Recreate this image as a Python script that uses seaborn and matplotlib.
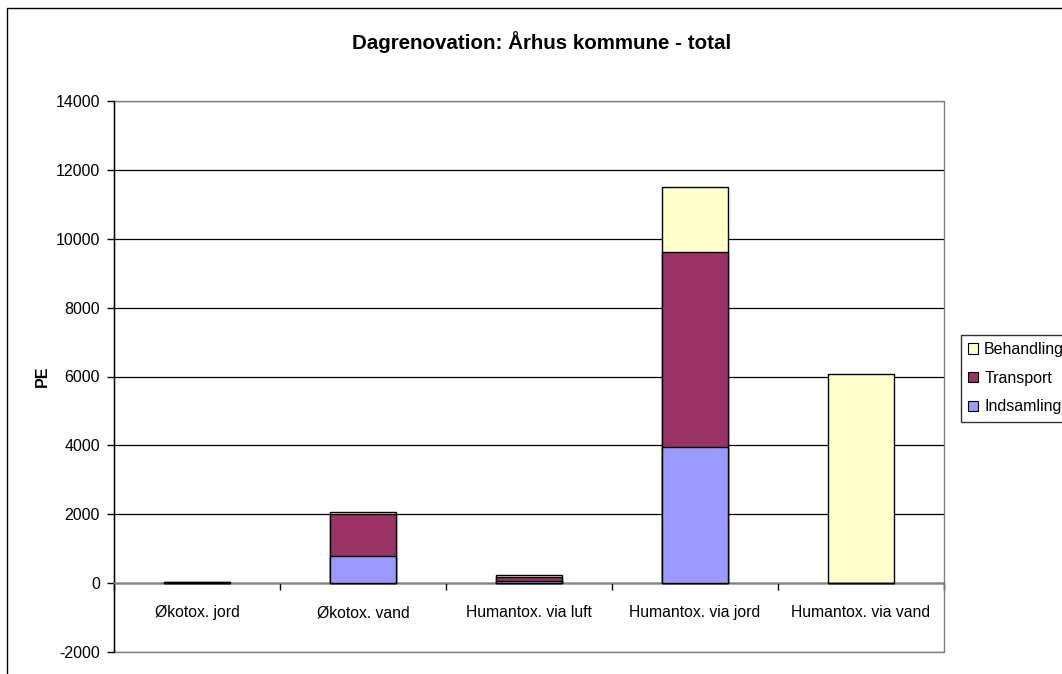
import pandas as pd
import matplotlib.pyplot as plt
import seaborn as sns
from matplotlib.patches import Rectangle, Patch

# Data (PE)
categories = ['Økotox. jord', 'Økotox. vand', 'Humantox. via luft',
              'Humantox. via jord', 'Humantox. via vand']
indsamling = [10, 800, 60, 3950, 0]
transport = [15, 1220, 130, 5670, 0]
behandling = [5, 40, 60, 1870, 6080]

colors = {'Indsamling': '#9999FF', 'Transport': '#993366', 'Behandling': '#FFFFCC'}

df = pd.DataFrame({'kategori': categories,
                   'Indsamling': indsamling,
                   'Transport': transport,
                   'Behandling': behandling})
# cumulative heights for stacking
df['top_ind'] = df['Indsamling']
df['top_trans'] = df['top_ind'] + df['Transport']
df['top_beh'] = df['top_trans'] + df['Behandling']

sns.set_style('white')
plt.rcParams['font.family'] = ['Liberation Sans', 'DejaVu Sans']
plt.rcParams['text.color'] = 'black'
plt.rcParams['axes.labelcolor'] = 'black'
plt.rcParams['xtick.color'] = 'black'
plt.rcParams['ytick.color'] = 'black'
plt.rcParams['axes.unicode_minus'] = False

W, H = 1062, 674
fig = plt.figure(figsize=(W / 100, H / 100), dpi=100)
ax = fig.add_axes([114 / W, 1 - 652 / H, (944 - 114) / W, (652 - 101) / H])

# draw tallest stack first, then overlay lower segments
for col, name in [('top_beh', 'Behandling'), ('top_trans', 'Transport'), ('top_ind', 'Indsamling')]:
    sns.barplot(data=df, x='kategori', y=col, order=categories, color=colors[name],
                width=0.4, edgecolor='black', linewidth=1, saturation=1, ax=ax, zorder=3)

ax.set_ylim(-2000, 14000)
ax.set_xlim(-0.5, len(categories) - 0.5)
ax.set_yticks(range(-2000, 14001, 2000))
ax.yaxis.grid(True, color='black', linewidth=0.9)
ax.set_axisbelow(True)
ax.tick_params(axis='y', direction='out', length=5, width=1, color='black',
               labelsize=11.5, pad=5, left=True)

# x axis sits at 0 with category separator ticks
ax.spines['bottom'].set_position(('data', 0))
ax.spines['bottom'].set_color('#808080')
ax.spines['bottom'].set_linewidth(1)
ax.spines['top'].set_visible(False)
ax.spines['right'].set_visible(False)
ax.spines['left'].set_color('black')
ax.spines['left'].set_linewidth(1)
ax.set_xticks(range(len(categories)))
ax.set_xticklabels(categories)
ax.set_xticks([i + 0.5 for i in range(-1, len(categories))], minor=True)
ax.tick_params(axis='x', which='major', length=0, labelsize=11.3, pad=16, bottom=True)
ax.tick_params(axis='x', which='minor', direction='out', length=5, width=1,
               color='black', bottom=True)
ax.axhline(0, color='black', linewidth=1, zorder=2)

# grey plot-area frame
ax.add_patch(Rectangle((0, 0), 1, 1, transform=ax.transAxes, fill=False,
                       edgecolor='#808080', linewidth=1, zorder=1, clip_on=False))

ax.set_xlabel('')
ax.set_ylabel('PE', fontsize=11.5, fontweight='bold', labelpad=4)

fig.text(542 / W, 1 - 42 / H, 'Dagrenovation: Århus kommune - total',
         ha='center', va='center', fontsize=14.8, fontweight='bold')

handles = [Patch(facecolor=colors[n], edgecolor='black', linewidth=0.8, label=n)
           for n in ['Behandling', 'Transport', 'Indsamling']]
leg = fig.legend(handles=handles, loc='upper left', bbox_to_anchor=(961 / W, 1 - 335 / H),
                 fontsize=11.5, frameon=True, fancybox=False, handlelength=0.6,
                 handleheight=0.6, handletextpad=0.4, borderpad=0.45, labelspacing=0.85,
                 borderaxespad=0)
leg.get_frame().set_edgecolor('black')
leg.get_frame().set_linewidth(1)

# outer chart frame (cut off at right and bottom)
fig.patches.append(Rectangle((7 / W, -0.1), 2, 1 - 8 / H + 0.1, transform=fig.transFigure,
                             fill=False, edgecolor='black', linewidth=1))

fig.savefig('out.png', dpi=100)
